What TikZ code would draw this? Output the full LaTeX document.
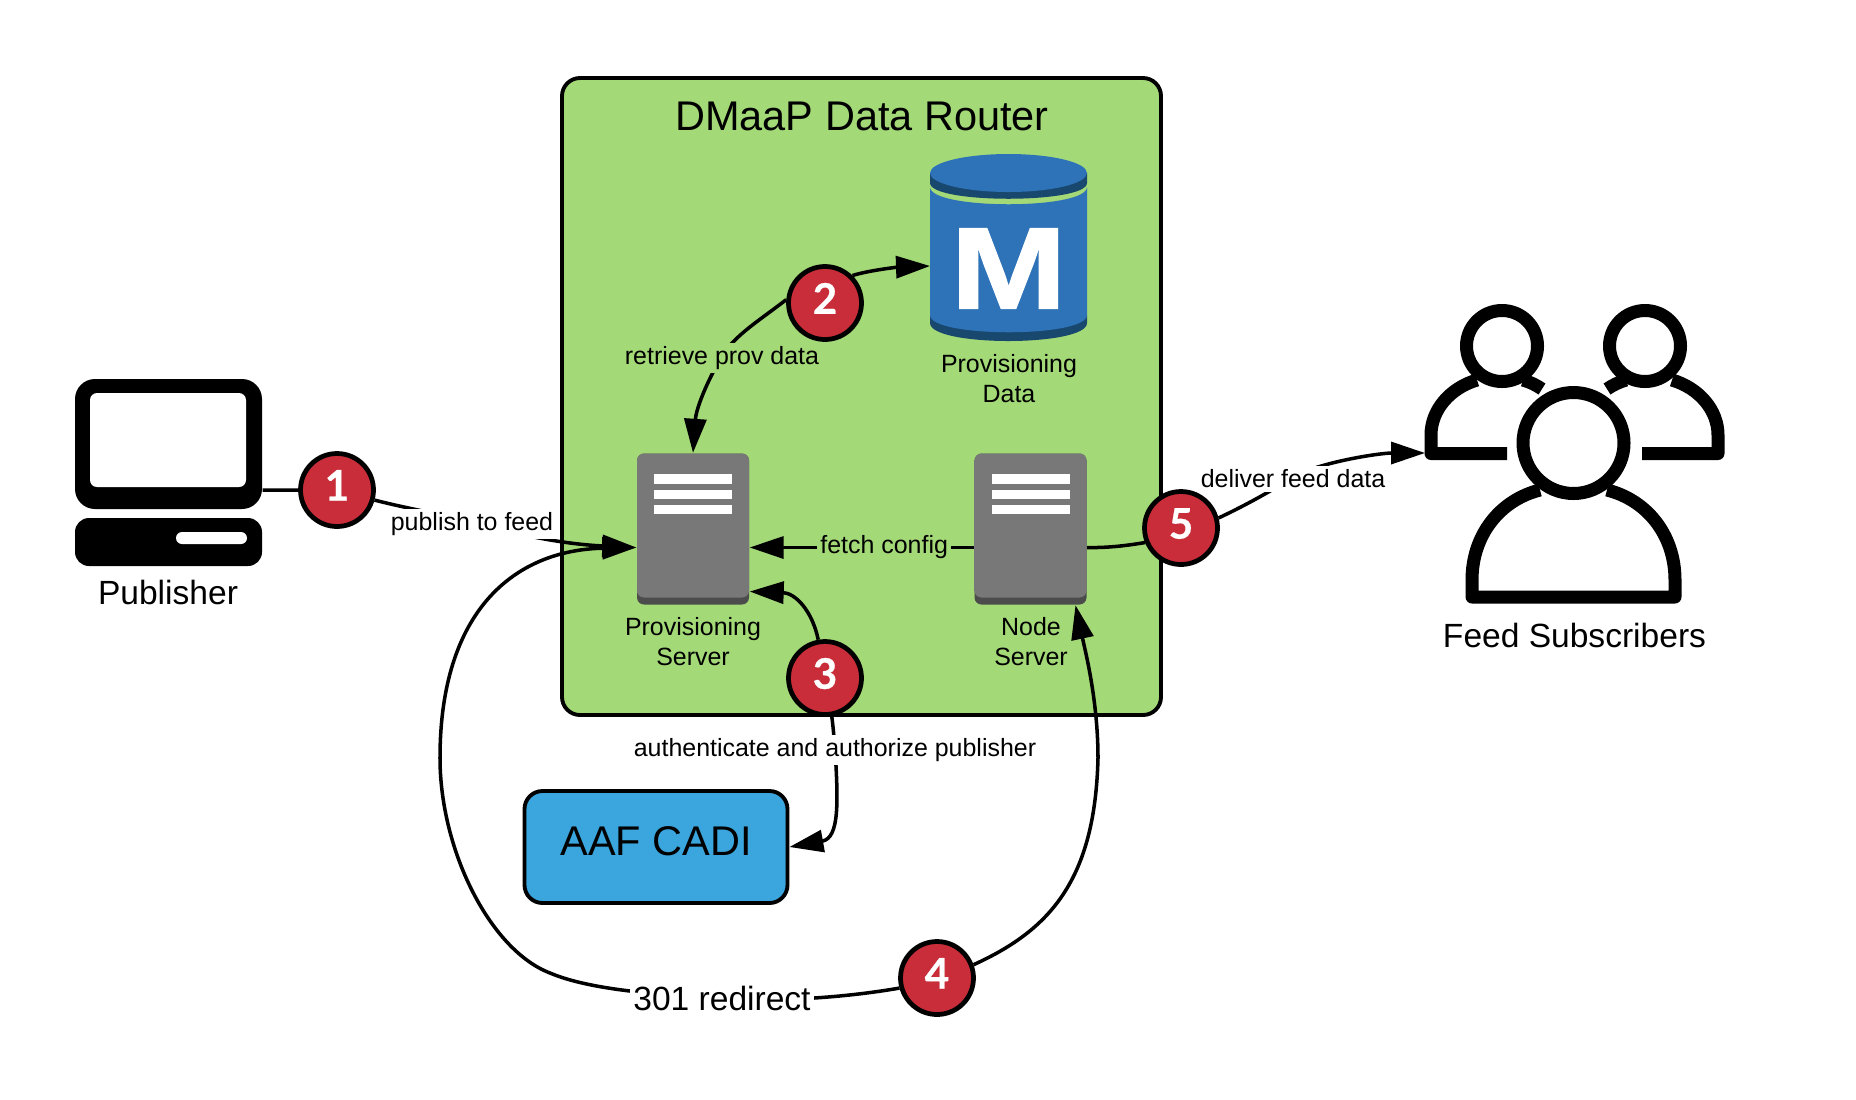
\documentclass[tikz,border=0pt]{standalone}
\usepackage{fontspec}
\setmainfont{Liberation Sans}
\newfontfamily\numfont{Lato}[BoldFeatures={FakeBold=0.6}]
\newfontfamily\dbfont{Liberation Sans}[BoldFeatures={FakeBold=1.2}]
\usetikzlibrary{arrows.meta}

\definecolor{routergreen}{HTML}{A3D977}
\definecolor{stepred}{HTML}{C92D39}
\definecolor{aafblue}{HTML}{3AA6DD}
\definecolor{dbblue}{HTML}{2E73B8}
\definecolor{dbdark}{HTML}{19486F}

\begin{document}
\begin{tikzpicture}[
          y=-1cm,
          stepnum/.style={circle, draw, line width=1.35pt, minimum size=0.73cm, inner sep=0pt, fill=stepred, text=white, font=\fontsize{12}{12}\selectfont\numfont\bfseries},
          conn/.style={line width=1pt, -{Triangle[length=0.34cm, width=0.22cm]}},
          plain/.style={line width=1pt},
          edgetext/.style={inner sep=1pt, fill=white, yshift=-0.02cm, font=\fontsize{7.1}{8.5}\selectfont},
          edgegreen/.style={edgetext, fill=routergreen},
          caption/.style={align=center, inner sep=0pt, font=\fontsize{7.1}{8.5}\selectfont},
          bigcaption/.style={inner sep=0pt, font=\fontsize{9.55}{11}\selectfont},
          server/.style={rounded corners=0.07cm, fill=black!70, minimum width=1.12cm, minimum height=1.51cm, inner sep=0pt},
          servertop/.style={rounded corners=0.07cm, top color=black!53, middle color=black!48, bottom color=black!53, minimum width=1.12cm, minimum height=1.44cm, inner sep=0pt},
          serverbar/.style={fill=white, minimum width=0.78cm, minimum height=0.095cm, inner sep=0pt},
          icon/.style={line width=3.7pt, line join=round}
        ]
          \useasboundingbox (0,0) rectangle (18.56,10.99);

          % Router box
          \node[draw, line width=1.1pt, rounded corners=0.18cm, fill=routergreen, minimum width=5.99cm, minimum height=6.37cm, inner sep=0pt] (router) at (8.615,3.965) {};
          \node[inner sep=0pt, font=\fontsize{11.8}{14}\selectfont] (routertitle) at (8.62,1.16) {DMaaP Data Router};

          % Provisioning data
          \fill[dbdark] (9.30,3.15) -- (9.30,3.23) .. controls (9.30,3.47) and (10.87,3.47) .. (10.87,3.23) -- (10.87,3.15) -- cycle;
          \fill[dbblue] (9.30,1.87) .. controls (9.30,2.10) and (10.87,2.10) .. (10.87,1.87) -- (10.87,3.15) .. controls (10.87,3.38) and (9.30,3.38) .. (9.30,3.15) -- cycle;
          \fill[dbdark] (9.30,1.73) -- (9.30,1.83) .. controls (9.30,2.04) and (10.87,2.04) .. (10.87,1.83) -- (10.87,1.73) -- cycle;
          \fill[dbblue] (10.085,1.73) ellipse [x radius=0.785, y radius=0.19];
          \node[inner sep=0pt, text=white, xscale=1.2, font=\fontsize{33}{33}\selectfont\dbfont\bfseries] (provdata) at (10.085,2.685) {M};
          \coordinate (provdatain) at (9.30,2.66);
          \node[caption] (provdatatext) at (10.09,3.79) {Provisioning\\Data};

          % Servers
          \node[server] (provserver) at (6.93,5.29) {};
          \node[servertop] (provservertop) at (6.93,5.255) {};
          \node[server] (nodeserver) at (10.305,5.29) {};
          \node[servertop] (nodeservertop) at (10.305,5.255) {};
          \foreach \x in {6.93,10.305}
            \foreach \y in {4.79,4.945,5.095}
              \node[serverbar] at (\x,\y) {};
          \node[caption] (provservertext) at (6.93,6.42) {Provisioning\\Server};
          \node[caption] (nodeservertext) at (10.31,6.42) {Node\\Server};

          % AAF
          \node[draw, line width=1.1pt, rounded corners=0.18cm, fill=aafblue, minimum width=2.63cm, minimum height=1.12cm, inner sep=0pt, font=\fontsize{11.8}{14}\selectfont] (aaf) at (6.56,8.47) {\raisebox{0.12cm}{AAF CADI}};

          % Publisher
          \node[fill=black, rounded corners=0.2cm, minimum width=1.87cm, minimum height=1.30cm, inner sep=0pt] (monitor) at (1.685,4.44) {};
          \node[fill=white, rounded corners=0.07cm, minimum width=1.56cm, minimum height=0.94cm, inner sep=0pt] (screen) at (1.68,4.40) {};
          \node[fill=black, rounded corners=0.14cm, minimum width=1.87cm, minimum height=0.48cm, inner sep=0pt] (tower) at (1.685,5.42) {};
          \node[fill=white, rounded corners=0.06cm, minimum width=0.71cm, minimum height=0.12cm, inner sep=0pt] (slot) at (2.115,5.38) {};
          \node[bigcaption] (publisher) at (1.68,5.92) {Publisher};

          % Subscribers
          \draw[icon] (15.02,3.46) circle (0.355);
          \draw[icon] (16.45,3.46) circle (0.355);
          \draw[icon] (15.735,4.43) circle (0.505);
          \draw[icon] (15.07,4.535) -- (14.31,4.535) -- (14.31,4.35) .. controls (14.31,4.10) and (14.50,3.88) .. (14.77,3.80);
          \draw[icon] (15.23,3.80) .. controls (15.30,3.82) and (15.36,3.85) .. (15.42,3.89);
          \draw[icon] (16.42,4.535) -- (17.18,4.535) -- (17.18,4.35) .. controls (17.18,4.10) and (16.99,3.88) .. (16.72,3.80);
          \draw[icon] (16.26,3.80) .. controls (16.19,3.82) and (16.13,3.85) .. (16.07,3.89);
          \draw[icon] (15.40,4.90) .. controls (15.00,5.00) and (14.72,5.35) .. (14.72,5.80) -- (14.72,5.97) -- (16.75,5.97) -- (16.75,5.80) .. controls (16.75,5.35) and (16.47,5.00) .. (16.07,4.90);
          \coordinate (subsin) at (14.25,4.53);
          \node[bigcaption] (subscribers) at (15.745,6.35) {Feed Subscribers};

          % Steps
          \node[stepnum] (step1) at (3.37,4.90) {\raisebox{0.22em}{1}};
          \node[stepnum] (step2) at (8.25,3.03) {\raisebox{0.22em}{2}};
          \node[stepnum] (step3) at (8.25,6.78) {\raisebox{0.22em}{3}};
          \node[stepnum] (step4) at (9.37,9.78) {\raisebox{0.22em}{4}};
          \node[stepnum] (step5) at (11.81,5.28) {\raisebox{0.22em}{5}};

          % Publish
          \draw[plain] ([yshift=-0.46cm]monitor.east) -- (step1.180);
          \draw[conn] (step1.-15) .. controls (4.05,5.08) and (4.40,5.14) .. (4.72,5.22) node[edgetext] {publish to feed} .. controls (5.10,5.33) and (5.60,5.44) .. ([yshift=-0.185cm]provserver.west);

          % Provisioning data
          \draw[conn] (step2.45) .. controls (8.70,2.70) and (9.00,2.67) .. (provdatain);
          \draw[conn] (step2.175) .. controls (7.60,3.20) and (7.35,3.35) .. (7.22,3.56) node[edgegreen] {retrieve prov data} .. controls (7.05,3.85) and (6.96,4.10) .. (provserver.north);

          % Authentication
          \draw[conn] (step3.100) .. controls (8.12,6.10) and (7.95,5.93) .. ([yshift=-0.625cm]provserver.east);
          \draw[conn] (step3.-80) .. controls (8.33,7.25) and (8.34,7.38) .. (8.35,7.48) node[edgetext] {authenticate and authorize publisher} .. controls (8.38,8.00) and (8.40,8.38) .. (aaf.east);

          % Redirect
          \draw[conn] (step4.195) .. controls (8.60,9.95) and (7.90,10.03) .. (7.22,9.98) node[edgetext, yshift=0.02cm, font=\fontsize{9.55}{11}\selectfont] {301 redirect} .. controls (6.60,9.95) and (5.90,9.90) .. (5.50,9.73) .. controls (4.90,9.50) and (4.40,8.50) .. (4.40,7.58) .. controls (4.40,6.10) and (5.15,5.50) .. ([yshift=-0.185cm]provserver.west);
          \draw[conn] (step4.20) .. controls (10.50,9.30) and (10.95,8.80) .. (10.98,7.58) .. controls (10.98,7.00) and (10.85,6.50) .. ([xshift=0.45cm]nodeserver.south);

          % Fetch and deliver
          \draw[conn] ([yshift=-0.185cm]nodeserver.west) -- node[edgegreen, pos=0.4, yshift=0.025cm] {fetch config} ([yshift=-0.185cm]provserver.east);
          \draw[plain] ([yshift=-0.185cm]nodeserver.east) .. controls (11.10,5.48) and (11.30,5.45) .. (step5.202);
          \draw[conn] (step5.15) .. controls (12.40,5.08) and (12.70,4.92) .. (12.93,4.77) node[edgetext] {deliver feed data} .. controls (13.20,4.62) and (13.80,4.53) .. (subsin);
        \end{tikzpicture}
\end{document}
